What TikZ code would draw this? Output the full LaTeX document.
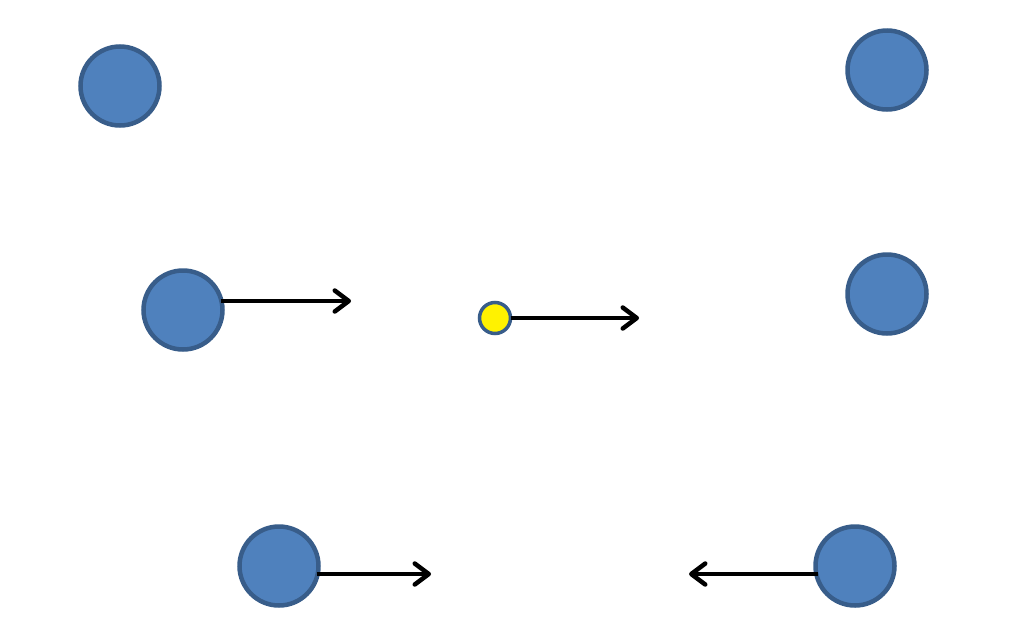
\documentclass[tikz,border=0pt]{standalone}
\usetikzlibrary{arrows.meta,calc}
\definecolor{ballfill}{HTML}{4F81BD}
\definecolor{balledge}{HTML}{385D8A}
\tikzset{
  ball/.style={circle,fill=ballfill,draw=balledge,line width=4.5pt,minimum size=79pt,inner sep=0pt,outer sep=0pt},
  dot/.style={circle,fill=yellow,draw=balledge,line width=3.5pt,minimum size=31pt,inner sep=0pt,outer sep=0pt},
  vel/.style={line width=4.5pt,-{Straight Barb[length=14pt,width=21pt,round]}}
}
\begin{document}
\begin{tikzpicture}[x=1pt,y=-1pt]
\useasboundingbox (0,0) rectangle (1012,643);
\node[ball] (tl) at (120,86) {};
\node[ball] (tr) at (887,70) {};
\node[ball] (ml) at (183,310) {};
\node[ball] (mr) at (887,294) {};
\node[dot] (y) at (495,318) {};
\node[ball] (bl) at (279,566) {};
\node[ball] (br) at (855,566) {};
\coordinate (mlt) at (351,301);
\coordinate (yt) at (639,318);
\coordinate (blt) at (431,574);
\coordinate (brt) at (689,574);
\draw[vel] ($(ml.east)+(-2,-9)$) -- (mlt);
\draw[vel] (y.east) -- (yt);
\draw[vel] ($(bl.east)+(-2,8)$) -- (blt);
\draw[vel] ($(br.west)+(2,8)$) -- (brt);
\end{tikzpicture}
\end{document}
